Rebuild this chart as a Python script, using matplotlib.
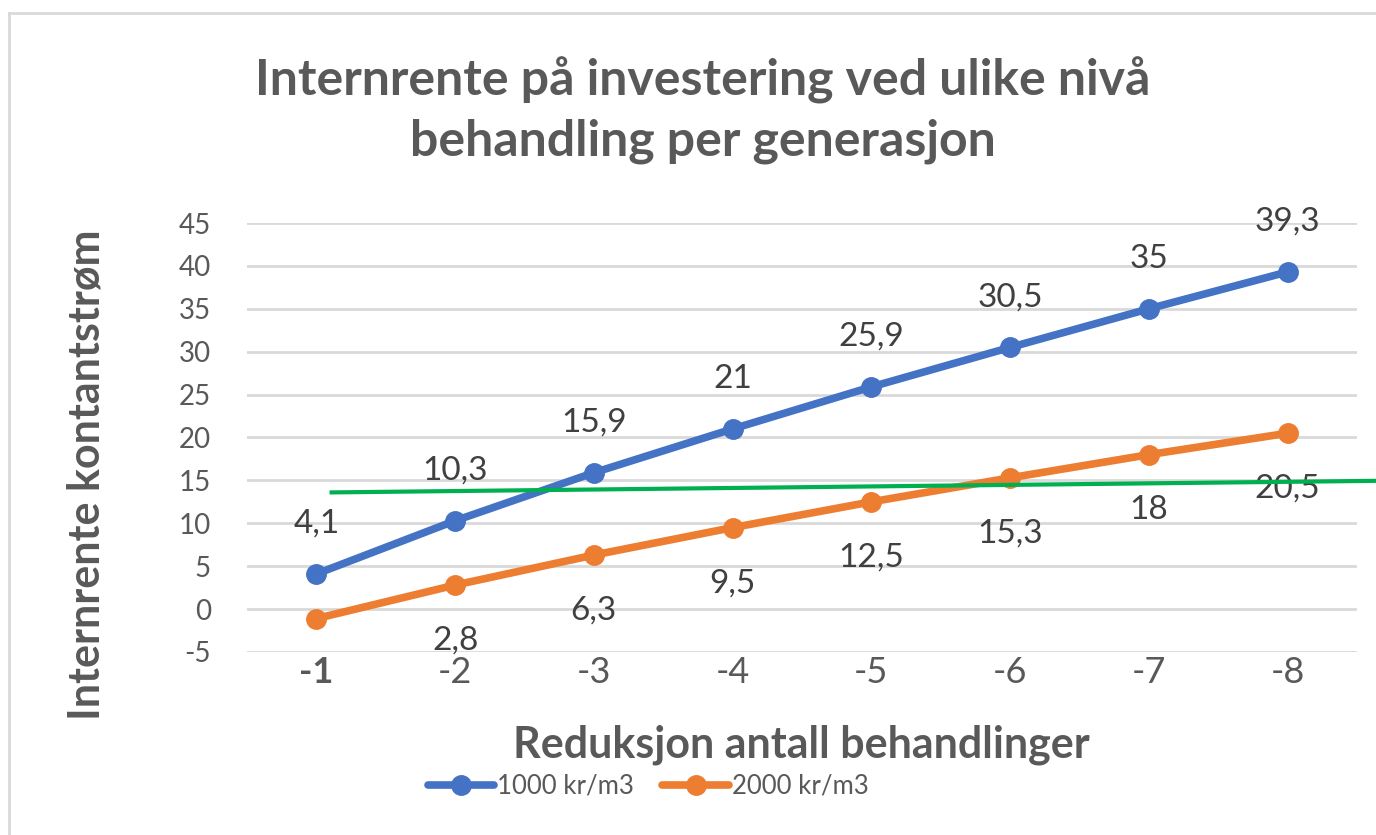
import matplotlib
matplotlib.use("Agg")
import matplotlib.pyplot as plt
from matplotlib.lines import Line2D

plt.rcParams['font.family'] = ['Lato', 'DejaVu Sans']

categories = ["-1", "-2", "-3", "-4", "-5", "-6", "-7", "-8"]
series_1000 = [4.1, 10.3, 15.9, 21, 25.9, 30.5, 35, 39.3]
series_2000 = [-1.1, 2.8, 6.3, 9.5, 12.5, 15.3, 18, 20.5]
labels_1000 = ["4,1", "10,3", "15,9", "21", "25,9", "30,5", "35", "39,3"]
labels_2000 = ["", "2,8", "6,3", "9,5", "12,5", "15,3", "18", "20,5"]
yticks = [-5, 0, 5, 10, 15, 20, 25, 30, 35, 40, 45]
legend_names = ["1000 kr/m3", "2000 kr/m3"]
# hand-drawn green overlay line (category position, value)
green_x = [1.11, 8.64]
green_y = [13.6, 14.95]

BLUE = "#4472C4"
ORANGE = "#ED7D31"
GREEN = "#00B050"
TEXT = "#595959"
GRID = "#D9D9D9"

fig = plt.figure(figsize=(13.76, 8.35), dpi=100)
fig.patch.set_facecolor("white")

# outer chart frame (top and left edges visible)
fig.add_artist(Line2D([9/1376, 1.0], [1 - 13/835, 1 - 13/835], color=GRID, lw=2, transform=fig.transFigure))
fig.add_artist(Line2D([9/1376, 9/1376], [0, 1 - 13/835], color=GRID, lw=2, transform=fig.transFigure))

ax = fig.add_axes([247/1376, 1 - 652/835, (1357 - 247)/1376, (652 - 223)/835])
x = list(range(1, len(categories) + 1))

ax.set_xlim(0.5, len(categories) + 0.5)
ax.set_ylim(min(yticks), max(yticks))
ax.set_yticks(yticks)
ax.set_yticklabels([str(v) for v in yticks], fontsize=20, color=TEXT)
ax.set_xticks(x)
ax.set_xticklabels(categories, fontsize=26, color=TEXT)
for i, t in enumerate(ax.get_xticklabels()):
    t.set_fontweight('bold' if i == 0 else 'normal')
ax.tick_params(axis='y', length=0, pad=26)
ax.tick_params(axis='x', length=0, pad=3)
for s in ax.spines.values():
    s.set_visible(False)
ax.grid(axis='y', color=GRID, lw=2)
ax.set_axisbelow(True)

ax.plot(x, series_1000, color=BLUE, lw=5.5, marker='o', markersize=14, label=legend_names[0], solid_capstyle='round')
ax.plot(x, series_2000, color=ORANGE, lw=5.5, marker='o', markersize=14, label=legend_names[1], solid_capstyle='round')

for xi, v, lab in zip(x, series_1000, labels_1000):
    ax.annotate(lab, (xi, v), xytext=(0, 36), textcoords='offset points', ha='center', va='center', fontsize=24, color="#404040")
for xi, v, lab in zip(x, series_2000, labels_2000):
    if lab:
        ax.annotate(lab, (xi, v), xytext=(0, -40), textcoords='offset points', ha='center', va='center', fontsize=24, color="#404040")

ax.plot(green_x, green_y, color=GREEN, lw=3, clip_on=False, zorder=5)

fig.text(703/1376, 1 - 80/835, "Internrente på investering ved ulike nivå", ha='center', va='center', fontsize=36, fontweight='bold', color=TEXT)
fig.text(703/1376, 1 - 141/835, "behandling per generasjon", ha='center', va='center', fontsize=36, fontweight='bold', color=TEXT)
fig.text(87/1376, 1 - 475/835, "Internrente kontantstrøm", rotation=90, ha='center', va='center', fontsize=31, fontweight='bold', color=TEXT)
fig.text(801/1376, 1 - 745/835, "Reduksjon antall behandlinger", ha='center', va='center', fontsize=31, fontweight='bold', color=TEXT)

leg = fig.legend(loc='center', bbox_to_anchor=(648/1376, 1 - 786/835), ncol=2, frameon=False,
                 fontsize=18.5, handlelength=2.6, handletextpad=0.1, columnspacing=1.1)
for t in leg.get_texts():
    t.set_color(TEXT)

fig.savefig("out.png", dpi=100, facecolor="white")
